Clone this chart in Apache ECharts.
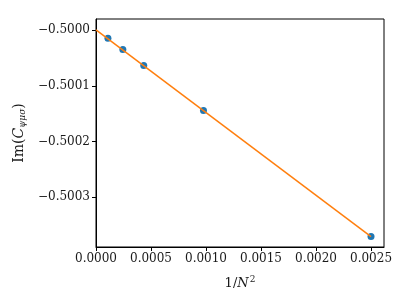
<!DOCTYPE html>
<html>
<head>
<meta charset="utf-8">
<script src="https://cdn.jsdelivr.net/npm/echarts@6/dist/echarts.min.js"></script>
<style>
html, body { margin: 0; padding: 0; background: #fff; }
#chart { width: 407px; height: 305px; }
</style>
</head>
<body>
<div id="chart"></div>
<script>
// data points (1/N^2 , Im C)
var invN2 = [0.0001085, 0.000244, 0.000434, 0.000977, 0.0025]
var imC = [-0.5000150, -0.5000350, -0.5000635, -0.5001442, -0.5003703]
// linear fit line
var fitX = [0, 0.0025]
var fitY = [-0.4999998, -0.5003703]
// tick values
var xTicks = [0, 0.0005, 0.0010, 0.0015, 0.0020, 0.0025]
var yTicks = [-0.5000, -0.5001, -0.5002, -0.5003]

var font = 'DejaVu Serif'
var txt = '#1a1a1a'

function fmtX(v) { return v.toFixed(4) }
function fmtY(v) { return '\u2212' + Math.abs(v).toFixed(4) }

var pts = invN2.map(function(x, i) { return [x, imC[i]] })
var fit = fitX.map(function(x, i) { return [x, fitY[i]] })

var myChart = echarts.init(document.getElementById('chart'))
var option = {
	animation: false,
	grid: {
		left: 96, right: 23, top: 19, bottom: 58,
		show: true, borderColor: '#000', borderWidth: 1
	},
	xAxis: {
		type: 'value',
		min: 0,
		max: 0.002618,
		splitLine: { show: false },
		axisLine: { lineStyle: { color: '#000', width: 1 } },
		axisTick: { customValues: xTicks, length: 4, lineStyle: { color: '#000' } },
		axisLabel: {
			customValues: xTicks, formatter: fmtX, margin: 6,
			fontFamily: font, fontSize: 12, color: txt
		},
		name: '1/{i|N}{s|2}',
		nameLocation: 'middle',
		nameGap: 28,
		nameTextStyle: {
			fontFamily: font, fontSize: 13, color: txt,
			rich: {
				i: { fontFamily: font, fontStyle: 'italic', fontSize: 13, color: txt },
				s: { fontFamily: font, fontSize: 9, color: txt, verticalAlign: 'bottom', padding: [0, 0, 8, 1] }
			}
		}
	},
	yAxis: {
		type: 'value',
		min: -0.500389,
		max: -0.4999803,
		splitLine: { show: false },
		axisLine: { show: true, lineStyle: { color: '#000', width: 1 } },
		axisTick: { show: true, customValues: yTicks, length: 4, lineStyle: { color: '#000' } },
		axisLabel: {
			customValues: yTicks, formatter: fmtY, margin: 6,
			fontFamily: font, fontSize: 12, color: txt
		},
		name: 'Im({i|C}{s|ψμσ})',
		nameLocation: 'middle',
		nameRotate: 90,
		nameGap: 66,
		nameTextStyle: {
			fontFamily: font, fontSize: 14, color: txt,
			rich: {
				i: { fontFamily: font, fontStyle: 'italic', fontSize: 14, color: txt },
				s: { fontFamily: font, fontStyle: 'italic', fontSize: 9, color: txt, verticalAlign: 'top', padding: [7, 0, 0, 0] }
			}
		}
	},
	series: [
		{
			type: 'scatter',
			data: pts,
			symbolSize: 7,
			itemStyle: { color: '#1f77b4', opacity: 1 },
			z: 2
		},
		{
			type: 'line',
			data: fit,
			symbol: 'none',
			lineStyle: { color: '#ff7f0e', width: 1.5 },
			z: 3
		}
	]
}
myChart.setOption(option)
</script>
</body>
</html>
